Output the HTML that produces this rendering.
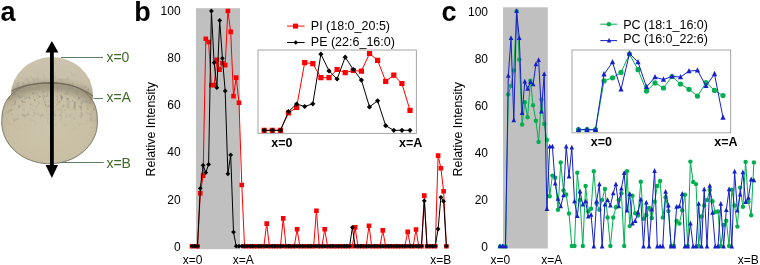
<!DOCTYPE html>
<html><head><meta charset="utf-8"><style>
html,body{margin:0;padding:0;background:#fff;width:760px;height:265px;overflow:hidden}
svg{display:block;will-change:transform}
text{font-family:"Liberation Sans",sans-serif}
.tk{font-size:12px;fill:#000}
.tkb{font-size:12.5px;font-weight:bold;fill:#000}
.lg{font-size:12.5px;fill:#000}
.xl{font-size:12px;fill:#000}
.ri{font-size:12.4px;fill:#000}
.lab{font-size:14px;fill:#3f6a26}
.pl{font-size:27px;font-weight:bold;fill:#000}
</style></head><body>
<svg width="760" height="265" viewBox="0 0 760 265">
<rect width="760" height="265" fill="#fff"/>

<defs>
 <linearGradient id="gUp" x1="0" y1="0" x2="0" y2="1">
  <stop offset="0" stop-color="#cbc3ad"/><stop offset="0.3" stop-color="#c9c0a9"/><stop offset="0.7" stop-color="#bdb49c"/><stop offset="1" stop-color="#b3aa91"/>
 </linearGradient>
 <radialGradient id="gLow" cx="0.5" cy="0.55" r="0.6">
  <stop offset="0" stop-color="#cdc5ab"/><stop offset="0.7" stop-color="#c8bfa4"/><stop offset="1" stop-color="#b9af94"/>
 </radialGradient>
 <clipPath id="cAll"><path d="M97.40 122.50 L97.36 124.12 L97.25 125.73 L97.07 127.34 L96.81 128.95 L96.48 130.54 L96.08 132.12 L95.61 133.68 L95.06 135.23 L94.45 136.76 L93.76 138.27 L93.01 139.75 L92.19 141.20 L91.31 142.63 L90.36 144.03 L89.34 145.39 L88.27 146.72 L87.14 148.01 L85.95 149.26 L84.70 150.47 L83.40 151.63 L82.05 152.75 L80.64 153.83 L79.19 154.86 L77.70 155.83 L76.16 156.76 L74.58 157.63 L72.96 158.45 L71.30 159.21 L69.61 159.92 L67.89 160.56 L66.14 161.15 L64.37 161.68 L62.57 162.15 L60.76 162.56 L58.93 162.91 L57.08 163.19 L55.22 163.41 L53.35 163.57 L51.48 163.67 L49.60 163.70 L47.72 163.67 L45.85 163.57 L43.98 163.41 L42.12 163.19 L40.27 162.91 L38.44 162.56 L36.63 162.15 L34.83 161.68 L33.06 161.15 L31.31 160.56 L29.59 159.92 L27.90 159.21 L26.24 158.45 L24.62 157.63 L23.04 156.76 L21.50 155.83 L20.01 154.86 L18.56 153.83 L17.15 152.75 L15.80 151.63 L14.50 150.47 L13.25 149.26 L12.06 148.01 L10.93 146.72 L9.86 145.39 L8.84 144.03 L7.89 142.63 L7.01 141.20 L6.19 139.75 L5.44 138.27 L4.75 136.76 L4.14 135.23 L3.59 133.68 L3.12 132.12 L2.72 130.54 L2.39 128.95 L2.13 127.34 L1.95 125.73 L1.84 124.12 L1.80 122.50 L1.83 119.55 L1.92 117.37 L2.07 115.41 L2.27 113.59 L2.54 111.87 L2.86 110.23 L3.24 108.65 L3.68 107.14 L4.18 105.68 L4.73 104.28 L5.35 102.92 L6.02 101.61 L6.74 100.34 L7.52 99.12 L8.36 97.94 L9.25 96.81 L10.20 95.72 L11.21 94.68 L12.26 93.67 L13.37 92.72 L14.54 91.80 L15.76 90.93 L17.03 90.11 L18.35 89.33 L19.73 88.59 L21.16 87.91 L22.65 87.26 L24.19 86.67 L25.78 86.12 L27.43 85.61 L29.14 85.16 L30.92 84.75 L32.76 84.38 L34.67 84.07 L36.67 83.81 L38.76 83.59 L40.98 83.42 L43.36 83.30 L46.01 83.22 L49.60 83.20 L53.19 83.22 L55.84 83.30 L58.22 83.42 L60.44 83.59 L62.53 83.81 L64.53 84.07 L66.44 84.38 L68.28 84.75 L70.06 85.16 L71.77 85.61 L73.42 86.12 L75.01 86.67 L76.55 87.26 L78.04 87.91 L79.47 88.59 L80.85 89.33 L82.17 90.11 L83.44 90.93 L84.66 91.80 L85.83 92.72 L86.94 93.67 L87.99 94.68 L89.00 95.72 L89.95 96.81 L90.84 97.94 L91.68 99.12 L92.46 100.34 L93.18 101.61 L93.85 102.92 L94.47 104.28 L95.02 105.68 L95.52 107.14 L95.96 108.65 L96.34 110.23 L96.66 111.87 L96.93 113.59 L97.13 115.41 L97.28 117.37 L97.37 119.55 Z"/><ellipse cx="52" cy="95" rx="41" ry="38"/></clipPath>
 <filter id="fb2" x="-20%" y="-50%" width="140%" height="200%"><feGaussianBlur stdDeviation="0.7"/></filter>
 <filter id="fb3" x="-20%" y="-50%" width="140%" height="200%"><feGaussianBlur stdDeviation="3"/></filter>
 <filter id="mottle" x="0" y="0" width="100%" height="100%"><feTurbulence type="fractalNoise" baseFrequency="0.3 0.22" numOctaves="3" seed="11"/><feColorMatrix type="matrix" values="0 0 0 0 0.3  0 0 0 0 0.28  0 0 0 0 0.24  4.5 0 0 0 -2.45"/><feGaussianBlur stdDeviation="0.35"/></filter>
 <linearGradient id="mfade" x1="0" y1="0" x2="0" y2="1">
  <stop offset="0" stop-color="#fff" stop-opacity="0"/><stop offset="0.3" stop-color="#fff" stop-opacity="0.6"/>
  <stop offset="0.45" stop-color="#fff" stop-opacity="1"/><stop offset="0.7" stop-color="#fff" stop-opacity="0.55"/><stop offset="1" stop-color="#fff" stop-opacity="0"/></linearGradient>
 <mask id="mMot"><rect x="0" y="70" width="100" height="60" fill="url(#mfade)"/></mask>
</defs>
<ellipse cx="52" cy="95" rx="41" ry="38" fill="url(#gUp)"/>
<path d="M97.40 122.50 L97.36 124.12 L97.25 125.73 L97.07 127.34 L96.81 128.95 L96.48 130.54 L96.08 132.12 L95.61 133.68 L95.06 135.23 L94.45 136.76 L93.76 138.27 L93.01 139.75 L92.19 141.20 L91.31 142.63 L90.36 144.03 L89.34 145.39 L88.27 146.72 L87.14 148.01 L85.95 149.26 L84.70 150.47 L83.40 151.63 L82.05 152.75 L80.64 153.83 L79.19 154.86 L77.70 155.83 L76.16 156.76 L74.58 157.63 L72.96 158.45 L71.30 159.21 L69.61 159.92 L67.89 160.56 L66.14 161.15 L64.37 161.68 L62.57 162.15 L60.76 162.56 L58.93 162.91 L57.08 163.19 L55.22 163.41 L53.35 163.57 L51.48 163.67 L49.60 163.70 L47.72 163.67 L45.85 163.57 L43.98 163.41 L42.12 163.19 L40.27 162.91 L38.44 162.56 L36.63 162.15 L34.83 161.68 L33.06 161.15 L31.31 160.56 L29.59 159.92 L27.90 159.21 L26.24 158.45 L24.62 157.63 L23.04 156.76 L21.50 155.83 L20.01 154.86 L18.56 153.83 L17.15 152.75 L15.80 151.63 L14.50 150.47 L13.25 149.26 L12.06 148.01 L10.93 146.72 L9.86 145.39 L8.84 144.03 L7.89 142.63 L7.01 141.20 L6.19 139.75 L5.44 138.27 L4.75 136.76 L4.14 135.23 L3.59 133.68 L3.12 132.12 L2.72 130.54 L2.39 128.95 L2.13 127.34 L1.95 125.73 L1.84 124.12 L1.80 122.50 L1.83 119.55 L1.92 117.37 L2.07 115.41 L2.27 113.59 L2.54 111.87 L2.86 110.23 L3.24 108.65 L3.68 107.14 L4.18 105.68 L4.73 104.28 L5.35 102.92 L6.02 101.61 L6.74 100.34 L7.52 99.12 L8.36 97.94 L9.25 96.81 L10.20 95.72 L11.21 94.68 L12.26 93.67 L13.37 92.72 L14.54 91.80 L15.76 90.93 L17.03 90.11 L18.35 89.33 L19.73 88.59 L21.16 87.91 L22.65 87.26 L24.19 86.67 L25.78 86.12 L27.43 85.61 L29.14 85.16 L30.92 84.75 L32.76 84.38 L34.67 84.07 L36.67 83.81 L38.76 83.59 L40.98 83.42 L43.36 83.30 L46.01 83.22 L49.60 83.20 L53.19 83.22 L55.84 83.30 L58.22 83.42 L60.44 83.59 L62.53 83.81 L64.53 84.07 L66.44 84.38 L68.28 84.75 L70.06 85.16 L71.77 85.61 L73.42 86.12 L75.01 86.67 L76.55 87.26 L78.04 87.91 L79.47 88.59 L80.85 89.33 L82.17 90.11 L83.44 90.93 L84.66 91.80 L85.83 92.72 L86.94 93.67 L87.99 94.68 L89.00 95.72 L89.95 96.81 L90.84 97.94 L91.68 99.12 L92.46 100.34 L93.18 101.61 L93.85 102.92 L94.47 104.28 L95.02 105.68 L95.52 107.14 L95.96 108.65 L96.34 110.23 L96.66 111.87 L96.93 113.59 L97.13 115.41 L97.28 117.37 L97.37 119.55 Z" fill="url(#gLow)"/>
<g clip-path="url(#cAll)">
 <path d="M6 97 Q25 86 50 86 Q78 86 96 101" fill="none" stroke="#5f584a" stroke-width="8" opacity="0.38" filter="url(#fb3)"/>
 <rect x="0" y="70" width="100" height="60" filter="url(#mottle)" mask="url(#mMot)" opacity="0.9"/>
 <path d="M8 93 Q22 83.5 50 82.6 Q78 83.2 95 98" fill="none" stroke="#4d473b" stroke-width="1.2" opacity="0.5" filter="url(#fb2)"/>
</g>
<path d="M97.40 122.50 L97.36 124.12 L97.25 125.73 L97.07 127.34 L96.81 128.95 L96.48 130.54 L96.08 132.12 L95.61 133.68 L95.06 135.23 L94.45 136.76 L93.76 138.27 L93.01 139.75 L92.19 141.20 L91.31 142.63 L90.36 144.03 L89.34 145.39 L88.27 146.72 L87.14 148.01 L85.95 149.26 L84.70 150.47 L83.40 151.63 L82.05 152.75 L80.64 153.83 L79.19 154.86 L77.70 155.83 L76.16 156.76 L74.58 157.63 L72.96 158.45 L71.30 159.21 L69.61 159.92 L67.89 160.56 L66.14 161.15 L64.37 161.68 L62.57 162.15 L60.76 162.56 L58.93 162.91 L57.08 163.19 L55.22 163.41 L53.35 163.57 L51.48 163.67 L49.60 163.70 L47.72 163.67 L45.85 163.57 L43.98 163.41 L42.12 163.19 L40.27 162.91 L38.44 162.56 L36.63 162.15 L34.83 161.68 L33.06 161.15 L31.31 160.56 L29.59 159.92 L27.90 159.21 L26.24 158.45 L24.62 157.63 L23.04 156.76 L21.50 155.83 L20.01 154.86 L18.56 153.83 L17.15 152.75 L15.80 151.63 L14.50 150.47 L13.25 149.26 L12.06 148.01 L10.93 146.72 L9.86 145.39 L8.84 144.03 L7.89 142.63 L7.01 141.20 L6.19 139.75 L5.44 138.27 L4.75 136.76 L4.14 135.23 L3.59 133.68 L3.12 132.12 L2.72 130.54 L2.39 128.95 L2.13 127.34 L1.95 125.73 L1.84 124.12 L1.80 122.50 L1.83 119.55 L1.92 117.37 L2.07 115.41 L2.27 113.59 L2.54 111.87 L2.86 110.23 L3.24 108.65 L3.68 107.14 L4.18 105.68 L4.73 104.28 L5.35 102.92 L6.02 101.61 L6.74 100.34 L7.52 99.12 L8.36 97.94 L9.25 96.81 L10.20 95.72 L11.21 94.68 L12.26 93.67 L13.37 92.72 L14.54 91.80 L15.76 90.93 L17.03 90.11 L18.35 89.33 L19.73 88.59 L21.16 87.91 L22.65 87.26 L24.19 86.67 L25.78 86.12 L27.43 85.61 L29.14 85.16 L30.92 84.75 L32.76 84.38 L34.67 84.07 L36.67 83.81 L38.76 83.59 L40.98 83.42 L43.36 83.30 L46.01 83.22 L49.60 83.20 L53.19 83.22 L55.84 83.30 L58.22 83.42 L60.44 83.59 L62.53 83.81 L64.53 84.07 L66.44 84.38 L68.28 84.75 L70.06 85.16 L71.77 85.61 L73.42 86.12 L75.01 86.67 L76.55 87.26 L78.04 87.91 L79.47 88.59 L80.85 89.33 L82.17 90.11 L83.44 90.93 L84.66 91.80 L85.83 92.72 L86.94 93.67 L87.99 94.68 L89.00 95.72 L89.95 96.81 L90.84 97.94 L91.68 99.12 L92.46 100.34 L93.18 101.61 L93.85 102.92 L94.47 104.28 L95.02 105.68 L95.52 107.14 L95.96 108.65 L96.34 110.23 L96.66 111.87 L96.93 113.59 L97.13 115.41 L97.28 117.37 L97.37 119.55 Z" fill="none" stroke="#6e6656" stroke-width="0.9" opacity="0.95"/>
<line x1="61" y1="57.5" x2="103" y2="57.5" stroke="#5c7c66" stroke-width="1"/>
<line x1="93.5" y1="98.5" x2="103" y2="98.5" stroke="#5c7c66" stroke-width="1"/>
<line x1="60" y1="162.5" x2="103.6" y2="162.5" stroke="#5c7c66" stroke-width="1"/>
<rect x="50" y="50" width="3.8" height="117" fill="#000"/>
<path d="M51.9 41 L58.4 52.5 L45.4 52.5 Z" fill="#000"/>
<path d="M51.9 178 L58 165 L45.6 165 Z" fill="#000"/>
<text x="106.4" y="61.8" class="lab">x=0</text>
<text x="106.4" y="101.8" class="lab">x=A</text>
<text x="106.4" y="167.6" class="lab">x=B</text>
<text x="0.5" y="21.2" class="pl">a</text>

<rect x="196" y="8.2" width="44" height="241" fill="#c0c0c0"/>
<text x="180.6" y="15.3" class="tk" text-anchor="end">100</text>
<text x="180.6" y="62.3" class="tk" text-anchor="end">80</text>
<text x="180.6" y="109.4" class="tk" text-anchor="end">60</text>
<text x="180.6" y="156.4" class="tk" text-anchor="end">40</text>
<text x="180.6" y="203.5" class="tk" text-anchor="end">20</text>
<text x="180.6" y="250.5" class="tk" text-anchor="end">0</text>
<text transform="translate(154.5,176.4) rotate(-90)" class="ri">Relative Intensity</text>
<text x="134.2" y="21" class="pl">b</text>
<polyline fill="none" stroke="#ff0000" stroke-width="1.0" stroke-linejoin="round" points="192,246.2 194.8,246.2 197.5,246.2 200.3,193.3 203.1,175.6 205.8,38.8 208.6,42 211.4,85.1 214.1,85.1 216.9,59.9 219.7,69.6 222.4,63 225.2,65.1 227.9,11 230.7,31.9 233.5,96.1 236.2,77.6 239,102.7 241.8,185 244.5,246.2 247.3,246.2 250.1,246.2 252.8,246.2 255.6,246.2 258.4,246.2 261.1,246.2 263.9,246.2 266.7,223.6 269.4,246.2 272.2,246.2 274.9,246.2 277.7,246.2 280.5,246.2 283.2,218.4 286,246.2 288.8,246.2 291.5,246.2 294.3,246.2 297.1,229.3 299.8,246.2 302.6,246.2 305.4,246.2 308.1,246.2 310.9,246.2 313.7,246.2 316.4,210.7 319.2,246.2 322,246.2 324.7,229.3 327.5,246.2 330.2,246.2 333,246.2 335.8,246.2 338.5,246.2 341.3,246.2 344.1,246.2 346.8,246.2 349.6,246.2 352.4,246.2 355.1,227.4 357.9,246.2 360.7,246.2 363.4,246.2 366.2,246.2 369,225.7 371.7,246.2 374.5,246.2 377.3,246.2 380,246.2 382.8,230.4 385.6,246.2 388.3,246.2 391.1,246.2 393.8,246.2 396.6,246.2 399.4,246.2 402.1,246.2 404.9,246.2 407.7,231.9 410.4,246.2 413.2,246.2 416,229.5 418.7,246.2 421.5,246.2 424.3,195.6 427,246.2 429.8,246.2 432.6,246.2 435.3,246.2 438.1,155.6 440.9,168.3 443.6,191.2 446.4,246.2"/>
<path fill="#ff0000" d="M189.7 243.9h4.6v4.6h-4.6zM192.5 243.9h4.6v4.6h-4.6zM195.2 243.9h4.6v4.6h-4.6zM198 191h4.6v4.6h-4.6zM200.8 173.3h4.6v4.6h-4.6zM203.5 36.5h4.6v4.6h-4.6zM206.3 39.7h4.6v4.6h-4.6zM209.1 82.8h4.6v4.6h-4.6zM211.8 82.8h4.6v4.6h-4.6zM214.6 57.6h4.6v4.6h-4.6zM217.3 67.3h4.6v4.6h-4.6zM220.1 60.7h4.6v4.6h-4.6zM222.9 62.8h4.6v4.6h-4.6zM225.6 8.7h4.6v4.6h-4.6zM228.4 29.6h4.6v4.6h-4.6zM231.2 93.8h4.6v4.6h-4.6zM233.9 75.3h4.6v4.6h-4.6zM236.7 100.4h4.6v4.6h-4.6zM239.5 182.7h4.6v4.6h-4.6zM242.2 243.9h4.6v4.6h-4.6zM245 243.9h4.6v4.6h-4.6zM247.8 243.9h4.6v4.6h-4.6zM250.5 243.9h4.6v4.6h-4.6zM253.3 243.9h4.6v4.6h-4.6zM256.1 243.9h4.6v4.6h-4.6zM258.8 243.9h4.6v4.6h-4.6zM261.6 243.9h4.6v4.6h-4.6zM264.4 221.3h4.6v4.6h-4.6zM267.1 243.9h4.6v4.6h-4.6zM269.9 243.9h4.6v4.6h-4.6zM272.6 243.9h4.6v4.6h-4.6zM275.4 243.9h4.6v4.6h-4.6zM278.2 243.9h4.6v4.6h-4.6zM280.9 216.1h4.6v4.6h-4.6zM283.7 243.9h4.6v4.6h-4.6zM286.5 243.9h4.6v4.6h-4.6zM289.2 243.9h4.6v4.6h-4.6zM292 243.9h4.6v4.6h-4.6zM294.8 227h4.6v4.6h-4.6zM297.5 243.9h4.6v4.6h-4.6zM300.3 243.9h4.6v4.6h-4.6zM303.1 243.9h4.6v4.6h-4.6zM305.8 243.9h4.6v4.6h-4.6zM308.6 243.9h4.6v4.6h-4.6zM311.4 243.9h4.6v4.6h-4.6zM314.1 208.4h4.6v4.6h-4.6zM316.9 243.9h4.6v4.6h-4.6zM319.7 243.9h4.6v4.6h-4.6zM322.4 227h4.6v4.6h-4.6zM325.2 243.9h4.6v4.6h-4.6zM327.9 243.9h4.6v4.6h-4.6zM330.7 243.9h4.6v4.6h-4.6zM333.5 243.9h4.6v4.6h-4.6zM336.2 243.9h4.6v4.6h-4.6zM339 243.9h4.6v4.6h-4.6zM341.8 243.9h4.6v4.6h-4.6zM344.5 243.9h4.6v4.6h-4.6zM347.3 243.9h4.6v4.6h-4.6zM350.1 243.9h4.6v4.6h-4.6zM352.8 225.1h4.6v4.6h-4.6zM355.6 243.9h4.6v4.6h-4.6zM358.4 243.9h4.6v4.6h-4.6zM361.1 243.9h4.6v4.6h-4.6zM363.9 243.9h4.6v4.6h-4.6zM366.7 223.4h4.6v4.6h-4.6zM369.4 243.9h4.6v4.6h-4.6zM372.2 243.9h4.6v4.6h-4.6zM375 243.9h4.6v4.6h-4.6zM377.7 243.9h4.6v4.6h-4.6zM380.5 228.1h4.6v4.6h-4.6zM383.2 243.9h4.6v4.6h-4.6zM386 243.9h4.6v4.6h-4.6zM388.8 243.9h4.6v4.6h-4.6zM391.5 243.9h4.6v4.6h-4.6zM394.3 243.9h4.6v4.6h-4.6zM397.1 243.9h4.6v4.6h-4.6zM399.8 243.9h4.6v4.6h-4.6zM402.6 243.9h4.6v4.6h-4.6zM405.4 229.6h4.6v4.6h-4.6zM408.1 243.9h4.6v4.6h-4.6zM410.9 243.9h4.6v4.6h-4.6zM413.7 227.2h4.6v4.6h-4.6zM416.4 243.9h4.6v4.6h-4.6zM419.2 243.9h4.6v4.6h-4.6zM422 193.3h4.6v4.6h-4.6zM424.7 243.9h4.6v4.6h-4.6zM427.5 243.9h4.6v4.6h-4.6zM430.3 243.9h4.6v4.6h-4.6zM433 243.9h4.6v4.6h-4.6zM435.8 153.3h4.6v4.6h-4.6zM438.6 166h4.6v4.6h-4.6zM441.3 188.9h4.6v4.6h-4.6zM444.1 243.9h4.6v4.6h-4.6z"/>
<polyline fill="none" stroke="#000000" stroke-width="1.0" stroke-linejoin="round" points="192,246.2 194.8,246.2 197.5,246.2 200.3,188.3 203.1,165.3 205.8,172.6 208.6,164.4 211.4,11 214.1,62.7 216.9,87.7 219.7,20.4 222.4,58.3 225.2,91 227.9,173.8 230.7,154.9 233.5,232.1 236.2,246.2 239,246.2 241.8,246.2 244.5,246.2 247.3,246.2 250.1,246.2 252.8,246.2 255.6,246.2 258.4,246.2 261.1,246.2 263.9,246.2 266.7,246.2 269.4,246.2 272.2,246.2 274.9,246.2 277.7,246.2 280.5,246.2 283.2,246.2 286,246.2 288.8,246.2 291.5,246.2 294.3,246.2 297.1,246.2 299.8,246.2 302.6,246.2 305.4,246.2 308.1,246.2 310.9,246.2 313.7,246.2 316.4,246.2 319.2,246.2 322,246.2 324.7,246.2 327.5,246.2 330.2,246.2 333,246.2 335.8,246.2 338.5,246.2 341.3,246.2 344.1,246.2 346.8,246.2 349.6,246.2 352.4,227.4 355.1,246.2 357.9,246.2 360.7,246.2 363.4,246.2 366.2,246.2 369,246.2 371.7,246.2 374.5,246.2 377.3,246.2 380,246.2 382.8,246.2 385.6,246.2 388.3,246.2 391.1,246.2 393.8,246.2 396.6,246.2 399.4,246.2 402.1,246.2 404.9,246.2 407.7,246.2 410.4,246.2 413.2,246.2 416,246.2 418.7,246.2 421.5,246.2 424.3,200.8 427,246.2 429.8,246.2 432.6,246.2 435.3,246.2 438.1,229 440.9,197.3 443.6,201.3 446.4,246.2"/>
<path fill="#000000" d="M192 243.8l2.4 2.4l-2.4 2.4l-2.4 -2.4zM194.8 243.8l2.4 2.4l-2.4 2.4l-2.4 -2.4zM197.5 243.8l2.4 2.4l-2.4 2.4l-2.4 -2.4zM200.3 185.9l2.4 2.4l-2.4 2.4l-2.4 -2.4zM203.1 162.9l2.4 2.4l-2.4 2.4l-2.4 -2.4zM205.8 170.2l2.4 2.4l-2.4 2.4l-2.4 -2.4zM208.6 162l2.4 2.4l-2.4 2.4l-2.4 -2.4zM211.4 8.6l2.4 2.4l-2.4 2.4l-2.4 -2.4zM214.1 60.3l2.4 2.4l-2.4 2.4l-2.4 -2.4zM216.9 85.3l2.4 2.4l-2.4 2.4l-2.4 -2.4zM219.7 18l2.4 2.4l-2.4 2.4l-2.4 -2.4zM222.4 55.9l2.4 2.4l-2.4 2.4l-2.4 -2.4zM225.2 88.6l2.4 2.4l-2.4 2.4l-2.4 -2.4zM227.9 171.4l2.4 2.4l-2.4 2.4l-2.4 -2.4zM230.7 152.5l2.4 2.4l-2.4 2.4l-2.4 -2.4zM233.5 229.7l2.4 2.4l-2.4 2.4l-2.4 -2.4zM236.2 243.8l2.4 2.4l-2.4 2.4l-2.4 -2.4zM239 243.8l2.4 2.4l-2.4 2.4l-2.4 -2.4zM241.8 243.8l2.4 2.4l-2.4 2.4l-2.4 -2.4zM244.5 243.8l2.4 2.4l-2.4 2.4l-2.4 -2.4zM247.3 243.8l2.4 2.4l-2.4 2.4l-2.4 -2.4zM250.1 243.8l2.4 2.4l-2.4 2.4l-2.4 -2.4zM252.8 243.8l2.4 2.4l-2.4 2.4l-2.4 -2.4zM255.6 243.8l2.4 2.4l-2.4 2.4l-2.4 -2.4zM258.4 243.8l2.4 2.4l-2.4 2.4l-2.4 -2.4zM261.1 243.8l2.4 2.4l-2.4 2.4l-2.4 -2.4zM263.9 243.8l2.4 2.4l-2.4 2.4l-2.4 -2.4zM266.7 243.8l2.4 2.4l-2.4 2.4l-2.4 -2.4zM269.4 243.8l2.4 2.4l-2.4 2.4l-2.4 -2.4zM272.2 243.8l2.4 2.4l-2.4 2.4l-2.4 -2.4zM274.9 243.8l2.4 2.4l-2.4 2.4l-2.4 -2.4zM277.7 243.8l2.4 2.4l-2.4 2.4l-2.4 -2.4zM280.5 243.8l2.4 2.4l-2.4 2.4l-2.4 -2.4zM283.2 243.8l2.4 2.4l-2.4 2.4l-2.4 -2.4zM286 243.8l2.4 2.4l-2.4 2.4l-2.4 -2.4zM288.8 243.8l2.4 2.4l-2.4 2.4l-2.4 -2.4zM291.5 243.8l2.4 2.4l-2.4 2.4l-2.4 -2.4zM294.3 243.8l2.4 2.4l-2.4 2.4l-2.4 -2.4zM297.1 243.8l2.4 2.4l-2.4 2.4l-2.4 -2.4zM299.8 243.8l2.4 2.4l-2.4 2.4l-2.4 -2.4zM302.6 243.8l2.4 2.4l-2.4 2.4l-2.4 -2.4zM305.4 243.8l2.4 2.4l-2.4 2.4l-2.4 -2.4zM308.1 243.8l2.4 2.4l-2.4 2.4l-2.4 -2.4zM310.9 243.8l2.4 2.4l-2.4 2.4l-2.4 -2.4zM313.7 243.8l2.4 2.4l-2.4 2.4l-2.4 -2.4zM316.4 243.8l2.4 2.4l-2.4 2.4l-2.4 -2.4zM319.2 243.8l2.4 2.4l-2.4 2.4l-2.4 -2.4zM322 243.8l2.4 2.4l-2.4 2.4l-2.4 -2.4zM324.7 243.8l2.4 2.4l-2.4 2.4l-2.4 -2.4zM327.5 243.8l2.4 2.4l-2.4 2.4l-2.4 -2.4zM330.2 243.8l2.4 2.4l-2.4 2.4l-2.4 -2.4zM333 243.8l2.4 2.4l-2.4 2.4l-2.4 -2.4zM335.8 243.8l2.4 2.4l-2.4 2.4l-2.4 -2.4zM338.5 243.8l2.4 2.4l-2.4 2.4l-2.4 -2.4zM341.3 243.8l2.4 2.4l-2.4 2.4l-2.4 -2.4zM344.1 243.8l2.4 2.4l-2.4 2.4l-2.4 -2.4zM346.8 243.8l2.4 2.4l-2.4 2.4l-2.4 -2.4zM349.6 243.8l2.4 2.4l-2.4 2.4l-2.4 -2.4zM352.4 225l2.4 2.4l-2.4 2.4l-2.4 -2.4zM355.1 243.8l2.4 2.4l-2.4 2.4l-2.4 -2.4zM357.9 243.8l2.4 2.4l-2.4 2.4l-2.4 -2.4zM360.7 243.8l2.4 2.4l-2.4 2.4l-2.4 -2.4zM363.4 243.8l2.4 2.4l-2.4 2.4l-2.4 -2.4zM366.2 243.8l2.4 2.4l-2.4 2.4l-2.4 -2.4zM369 243.8l2.4 2.4l-2.4 2.4l-2.4 -2.4zM371.7 243.8l2.4 2.4l-2.4 2.4l-2.4 -2.4zM374.5 243.8l2.4 2.4l-2.4 2.4l-2.4 -2.4zM377.3 243.8l2.4 2.4l-2.4 2.4l-2.4 -2.4zM380 243.8l2.4 2.4l-2.4 2.4l-2.4 -2.4zM382.8 243.8l2.4 2.4l-2.4 2.4l-2.4 -2.4zM385.6 243.8l2.4 2.4l-2.4 2.4l-2.4 -2.4zM388.3 243.8l2.4 2.4l-2.4 2.4l-2.4 -2.4zM391.1 243.8l2.4 2.4l-2.4 2.4l-2.4 -2.4zM393.8 243.8l2.4 2.4l-2.4 2.4l-2.4 -2.4zM396.6 243.8l2.4 2.4l-2.4 2.4l-2.4 -2.4zM399.4 243.8l2.4 2.4l-2.4 2.4l-2.4 -2.4zM402.1 243.8l2.4 2.4l-2.4 2.4l-2.4 -2.4zM404.9 243.8l2.4 2.4l-2.4 2.4l-2.4 -2.4zM407.7 243.8l2.4 2.4l-2.4 2.4l-2.4 -2.4zM410.4 243.8l2.4 2.4l-2.4 2.4l-2.4 -2.4zM413.2 243.8l2.4 2.4l-2.4 2.4l-2.4 -2.4zM416 243.8l2.4 2.4l-2.4 2.4l-2.4 -2.4zM418.7 243.8l2.4 2.4l-2.4 2.4l-2.4 -2.4zM421.5 243.8l2.4 2.4l-2.4 2.4l-2.4 -2.4zM424.3 198.4l2.4 2.4l-2.4 2.4l-2.4 -2.4zM427 243.8l2.4 2.4l-2.4 2.4l-2.4 -2.4zM429.8 243.8l2.4 2.4l-2.4 2.4l-2.4 -2.4zM432.6 243.8l2.4 2.4l-2.4 2.4l-2.4 -2.4zM435.3 243.8l2.4 2.4l-2.4 2.4l-2.4 -2.4zM438.1 226.6l2.4 2.4l-2.4 2.4l-2.4 -2.4zM440.9 194.9l2.4 2.4l-2.4 2.4l-2.4 -2.4zM443.6 198.9l2.4 2.4l-2.4 2.4l-2.4 -2.4zM446.4 243.8l2.4 2.4l-2.4 2.4l-2.4 -2.4z"/>
<rect x="258" y="50" width="158.4" height="83.4" fill="#fff" stroke="#a6a6a6" stroke-width="1"/>
<polyline fill="none" stroke="#ff0000" stroke-width="1.0" stroke-linejoin="round" points="264.2,130.3 272.3,130.3 280.4,130.3 288.5,113 296.6,107.3 304.7,62.6 312.8,63.6 320.9,77.7 329,77.7 337.1,69.5 345.2,72.6 353.3,70.5 361.4,71.2 369.5,53.5 377.6,60.3 385.7,81.3 393.8,75.2 401.9,83.5 410,110.3"/>
<path fill="#ff0000" d="M261.6 127.7h5.2v5.2h-5.2zM269.7 127.7h5.2v5.2h-5.2zM277.8 127.7h5.2v5.2h-5.2zM285.9 110.4h5.2v5.2h-5.2zM294 104.7h5.2v5.2h-5.2zM302.1 60h5.2v5.2h-5.2zM310.2 61h5.2v5.2h-5.2zM318.3 75.1h5.2v5.2h-5.2zM326.4 75.1h5.2v5.2h-5.2zM334.5 66.9h5.2v5.2h-5.2zM342.6 70h5.2v5.2h-5.2zM350.7 67.9h5.2v5.2h-5.2zM358.8 68.6h5.2v5.2h-5.2zM366.9 50.9h5.2v5.2h-5.2zM375 57.7h5.2v5.2h-5.2zM383.1 78.7h5.2v5.2h-5.2zM391.2 72.6h5.2v5.2h-5.2zM399.3 80.9h5.2v5.2h-5.2zM407.4 107.7h5.2v5.2h-5.2z"/>
<polyline fill="none" stroke="#000000" stroke-width="1.0" stroke-linejoin="round" points="264.2,130.3 272.3,130.3 280.4,130.3 288.5,111.6 296.6,104.1 304.7,106.5 312.8,103.8 320.9,54.2 329,70.9 337.1,79 345.2,57.2 353.3,69.5 361.4,80.1 369.5,106.9 377.6,100.8 385.7,125.7 393.8,130.3 401.9,130.3 410,130.3"/>
<path fill="#000000" d="M264.2 127.7l2.6 2.6l-2.6 2.6l-2.6 -2.6zM272.3 127.7l2.6 2.6l-2.6 2.6l-2.6 -2.6zM280.4 127.7l2.6 2.6l-2.6 2.6l-2.6 -2.6zM288.5 109l2.6 2.6l-2.6 2.6l-2.6 -2.6zM296.6 101.5l2.6 2.6l-2.6 2.6l-2.6 -2.6zM304.7 103.9l2.6 2.6l-2.6 2.6l-2.6 -2.6zM312.8 101.2l2.6 2.6l-2.6 2.6l-2.6 -2.6zM320.9 51.6l2.6 2.6l-2.6 2.6l-2.6 -2.6zM329 68.3l2.6 2.6l-2.6 2.6l-2.6 -2.6zM337.1 76.4l2.6 2.6l-2.6 2.6l-2.6 -2.6zM345.2 54.6l2.6 2.6l-2.6 2.6l-2.6 -2.6zM353.3 66.9l2.6 2.6l-2.6 2.6l-2.6 -2.6zM361.4 77.5l2.6 2.6l-2.6 2.6l-2.6 -2.6zM369.5 104.3l2.6 2.6l-2.6 2.6l-2.6 -2.6zM377.6 98.2l2.6 2.6l-2.6 2.6l-2.6 -2.6zM385.7 123.1l2.6 2.6l-2.6 2.6l-2.6 -2.6zM393.8 127.7l2.6 2.6l-2.6 2.6l-2.6 -2.6zM401.9 127.7l2.6 2.6l-2.6 2.6l-2.6 -2.6zM410 127.7l2.6 2.6l-2.6 2.6l-2.6 -2.6z"/>
<text x="271.3" y="146.9" class="tkb">x=0</text>
<text x="399" y="146.9" class="tkb">x=A</text>
<text x="182.8" y="263.6" class="xl">x=0</text>
<text x="232.8" y="263.6" class="xl">x=A</text>
<text x="430.2" y="263.6" class="xl">x=B</text>
<line x1="287" y1="26.1" x2="304.6" y2="26.1" stroke="#ff0000"/>
<path fill="#ff0000" d="M293 23.6h5v5h-5z"/>
<line x1="287" y1="42.5" x2="304.6" y2="42.5" stroke="#000"/>
<path fill="#000000" d="M295.8 40.2l2.3 2.3l-2.3 2.3l-2.3 -2.3z"/>
<text x="310.8" y="30.4" class="lg">PI (18:0_20:5)</text>
<text x="310.8" y="46.3" class="lg">PE (22:6_16:0)</text>
<rect x="503" y="7.3" width="44.8" height="241.2" fill="#c0c0c0"/>
<text x="488" y="15.6" class="tk" text-anchor="end">100</text>
<text x="488" y="62.6" class="tk" text-anchor="end">80</text>
<text x="488" y="109.7" class="tk" text-anchor="end">60</text>
<text x="488" y="156.7" class="tk" text-anchor="end">40</text>
<text x="488" y="203.8" class="tk" text-anchor="end">20</text>
<text x="488" y="250.8" class="tk" text-anchor="end">0</text>
<text transform="translate(462.4,176.4) rotate(-90)" class="ri">Relative Intensity</text>
<text x="441.5" y="21.2" class="pl">c</text>
<polyline fill="none" stroke="#00b050" stroke-width="1.0" stroke-linejoin="round" points="500,246.4 502.8,246.4 505.5,246.4 508.3,94.4 511,85.9 513.8,70.4 516.6,11.1 519.3,59.6 522.1,124.5 524.8,102.2 527.6,117.2 530.4,80.7 533.1,105.2 535.9,120.7 538.6,141.9 541.4,99.6 544.2,124 546.9,140 549.7,196.2 552.4,175.6 555.2,177.7 558,209.8 560.7,162.5 563.5,190.5 566.2,194.5 569,213.5 571.8,246 574.5,246 577.3,172.8 580,200 582.8,246 585.6,186 588.3,211.4 591.1,208.8 593.8,171.3 596.6,203.7 599.4,209.8 602.1,200 604.9,189 607.6,217.4 610.4,246 613.2,217.5 615.9,207.3 618.7,200 621.4,193.3 624.2,246 627,171.2 629.7,226.1 632.5,195.7 635.2,213.3 638,215.5 640.8,181.8 643.5,218.8 646.3,215 649,208 651.8,218 654.6,201.8 657.3,186 660.1,181 662.8,217.5 665.6,197.3 668.4,211.1 671.1,246 673.9,246 676.6,221 679.4,223.6 682.2,210.2 684.9,194.8 687.7,246 690.4,161.6 693.2,182 696,184.1 698.7,246 701.5,216.5 704.2,205.5 707,200 709.8,189.9 712.5,201.2 715.3,212 718,211.4 720.8,246 723.6,225 726.3,220.7 729.1,246 731.8,189.6 734.6,205.5 737.4,226.6 740.1,187.6 742.9,206.8 745.6,161.9 748.4,201.7 751.2,215.3 753.9,162.4"/>
<circle cx="500" cy="246.4" r="2.2" fill="#00b050"/><circle cx="502.8" cy="246.4" r="2.2" fill="#00b050"/><circle cx="505.5" cy="246.4" r="2.2" fill="#00b050"/><circle cx="508.3" cy="94.4" r="2.2" fill="#00b050"/><circle cx="511" cy="85.9" r="2.2" fill="#00b050"/><circle cx="513.8" cy="70.4" r="2.2" fill="#00b050"/><circle cx="516.6" cy="11.1" r="2.2" fill="#00b050"/><circle cx="519.3" cy="59.6" r="2.2" fill="#00b050"/><circle cx="522.1" cy="124.5" r="2.2" fill="#00b050"/><circle cx="524.8" cy="102.2" r="2.2" fill="#00b050"/><circle cx="527.6" cy="117.2" r="2.2" fill="#00b050"/><circle cx="530.4" cy="80.7" r="2.2" fill="#00b050"/><circle cx="533.1" cy="105.2" r="2.2" fill="#00b050"/><circle cx="535.9" cy="120.7" r="2.2" fill="#00b050"/><circle cx="538.6" cy="141.9" r="2.2" fill="#00b050"/><circle cx="541.4" cy="99.6" r="2.2" fill="#00b050"/><circle cx="544.2" cy="124" r="2.2" fill="#00b050"/><circle cx="546.9" cy="140" r="2.2" fill="#00b050"/><circle cx="549.7" cy="196.2" r="2.2" fill="#00b050"/><circle cx="552.4" cy="175.6" r="2.2" fill="#00b050"/><circle cx="555.2" cy="177.7" r="2.2" fill="#00b050"/><circle cx="558" cy="209.8" r="2.2" fill="#00b050"/><circle cx="560.7" cy="162.5" r="2.2" fill="#00b050"/><circle cx="563.5" cy="190.5" r="2.2" fill="#00b050"/><circle cx="566.2" cy="194.5" r="2.2" fill="#00b050"/><circle cx="569" cy="213.5" r="2.2" fill="#00b050"/><circle cx="571.8" cy="246" r="2.2" fill="#00b050"/><circle cx="574.5" cy="246" r="2.2" fill="#00b050"/><circle cx="577.3" cy="172.8" r="2.2" fill="#00b050"/><circle cx="580" cy="200" r="2.2" fill="#00b050"/><circle cx="582.8" cy="246" r="2.2" fill="#00b050"/><circle cx="585.6" cy="186" r="2.2" fill="#00b050"/><circle cx="588.3" cy="211.4" r="2.2" fill="#00b050"/><circle cx="591.1" cy="208.8" r="2.2" fill="#00b050"/><circle cx="593.8" cy="171.3" r="2.2" fill="#00b050"/><circle cx="596.6" cy="203.7" r="2.2" fill="#00b050"/><circle cx="599.4" cy="209.8" r="2.2" fill="#00b050"/><circle cx="602.1" cy="200" r="2.2" fill="#00b050"/><circle cx="604.9" cy="189" r="2.2" fill="#00b050"/><circle cx="607.6" cy="217.4" r="2.2" fill="#00b050"/><circle cx="610.4" cy="246" r="2.2" fill="#00b050"/><circle cx="613.2" cy="217.5" r="2.2" fill="#00b050"/><circle cx="615.9" cy="207.3" r="2.2" fill="#00b050"/><circle cx="618.7" cy="200" r="2.2" fill="#00b050"/><circle cx="621.4" cy="193.3" r="2.2" fill="#00b050"/><circle cx="624.2" cy="246" r="2.2" fill="#00b050"/><circle cx="627" cy="171.2" r="2.2" fill="#00b050"/><circle cx="629.7" cy="226.1" r="2.2" fill="#00b050"/><circle cx="632.5" cy="195.7" r="2.2" fill="#00b050"/><circle cx="635.2" cy="213.3" r="2.2" fill="#00b050"/><circle cx="638" cy="215.5" r="2.2" fill="#00b050"/><circle cx="640.8" cy="181.8" r="2.2" fill="#00b050"/><circle cx="643.5" cy="218.8" r="2.2" fill="#00b050"/><circle cx="646.3" cy="215" r="2.2" fill="#00b050"/><circle cx="649" cy="208" r="2.2" fill="#00b050"/><circle cx="651.8" cy="218" r="2.2" fill="#00b050"/><circle cx="654.6" cy="201.8" r="2.2" fill="#00b050"/><circle cx="657.3" cy="186" r="2.2" fill="#00b050"/><circle cx="660.1" cy="181" r="2.2" fill="#00b050"/><circle cx="662.8" cy="217.5" r="2.2" fill="#00b050"/><circle cx="665.6" cy="197.3" r="2.2" fill="#00b050"/><circle cx="668.4" cy="211.1" r="2.2" fill="#00b050"/><circle cx="671.1" cy="246" r="2.2" fill="#00b050"/><circle cx="673.9" cy="246" r="2.2" fill="#00b050"/><circle cx="676.6" cy="221" r="2.2" fill="#00b050"/><circle cx="679.4" cy="223.6" r="2.2" fill="#00b050"/><circle cx="682.2" cy="210.2" r="2.2" fill="#00b050"/><circle cx="684.9" cy="194.8" r="2.2" fill="#00b050"/><circle cx="687.7" cy="246" r="2.2" fill="#00b050"/><circle cx="690.4" cy="161.6" r="2.2" fill="#00b050"/><circle cx="693.2" cy="182" r="2.2" fill="#00b050"/><circle cx="696" cy="184.1" r="2.2" fill="#00b050"/><circle cx="698.7" cy="246" r="2.2" fill="#00b050"/><circle cx="701.5" cy="216.5" r="2.2" fill="#00b050"/><circle cx="704.2" cy="205.5" r="2.2" fill="#00b050"/><circle cx="707" cy="200" r="2.2" fill="#00b050"/><circle cx="709.8" cy="189.9" r="2.2" fill="#00b050"/><circle cx="712.5" cy="201.2" r="2.2" fill="#00b050"/><circle cx="715.3" cy="212" r="2.2" fill="#00b050"/><circle cx="718" cy="211.4" r="2.2" fill="#00b050"/><circle cx="720.8" cy="246" r="2.2" fill="#00b050"/><circle cx="723.6" cy="225" r="2.2" fill="#00b050"/><circle cx="726.3" cy="220.7" r="2.2" fill="#00b050"/><circle cx="729.1" cy="246" r="2.2" fill="#00b050"/><circle cx="731.8" cy="189.6" r="2.2" fill="#00b050"/><circle cx="734.6" cy="205.5" r="2.2" fill="#00b050"/><circle cx="737.4" cy="226.6" r="2.2" fill="#00b050"/><circle cx="740.1" cy="187.6" r="2.2" fill="#00b050"/><circle cx="742.9" cy="206.8" r="2.2" fill="#00b050"/><circle cx="745.6" cy="161.9" r="2.2" fill="#00b050"/><circle cx="748.4" cy="201.7" r="2.2" fill="#00b050"/><circle cx="751.2" cy="215.3" r="2.2" fill="#00b050"/><circle cx="753.9" cy="162.4" r="2.2" fill="#00b050"/>
<polyline fill="none" stroke="#1420c8" stroke-width="1.0" stroke-linejoin="round" points="500,246.4 502.8,246.4 505.5,246.4 508.3,75.8 511,38.2 513.8,120.3 516.6,11.1 519.3,38.2 522.1,113 524.8,81.7 527.6,88.7 530.4,82.2 533.1,84.3 535.9,64.3 538.6,60 541.4,111.6 544.2,74.2 546.9,209 549.7,146.6 552.4,146.6 555.2,183.6 558,198.8 560.7,206.4 563.5,195.4 566.2,146.6 569,176.5 571.8,147.7 574.5,201.3 577.3,216 580,191.5 582.8,204.7 585.6,201.3 588.3,216.7 591.1,214.9 593.8,246.5 596.6,201.3 599.4,184.3 602.1,246.5 604.9,204.7 607.6,200.1 610.4,205.6 613.2,193.3 615.9,184.3 618.7,206.4 621.4,188.6 624.2,173.2 627,210.7 629.7,194 632.5,223.6 635.2,221 638,212.5 640.8,199.6 643.5,246.5 646.3,202.6 649,246.5 651.8,209.5 654.6,171 657.3,246.5 660.1,246.5 662.8,246.5 665.6,191.8 668.4,205.5 671.1,246.5 673.9,246.5 676.6,206.8 679.4,206.3 682.2,194 684.9,246.5 687.7,246.5 690.4,223.5 693.2,246.5 696,246.5 698.7,203.8 701.5,246.5 704.2,189.3 707,246.5 709.8,185.8 712.5,212.8 715.3,246.5 718,246.5 720.8,203.8 723.6,246.5 726.3,210.2 729.1,189.3 731.8,246.5 734.6,171.7 737.4,210.7 740.1,194.6 742.9,172.3 745.6,202.1 748.4,197.9 751.2,179.5 753.9,180.4"/>
<path fill="#1420c8" d="M500 243.5l2.3 4.8h-4.6zM502.8 243.5l2.3 4.8h-4.6zM505.5 243.5l2.3 4.8h-4.6zM508.3 72.9l2.3 4.8h-4.6zM511 35.3l2.3 4.8h-4.6zM513.8 117.4l2.3 4.8h-4.6zM516.6 8.2l2.3 4.8h-4.6zM519.3 35.3l2.3 4.8h-4.6zM522.1 110.1l2.3 4.8h-4.6zM524.8 78.8l2.3 4.8h-4.6zM527.6 85.9l2.3 4.8h-4.6zM530.4 79.3l2.3 4.8h-4.6zM533.1 81.4l2.3 4.8h-4.6zM535.9 61.4l2.3 4.8h-4.6zM538.6 57.2l2.3 4.8h-4.6zM541.4 108.7l2.3 4.8h-4.6zM544.2 71.3l2.3 4.8h-4.6zM546.9 206.1l2.3 4.8h-4.6zM549.7 143.7l2.3 4.8h-4.6zM552.4 143.7l2.3 4.8h-4.6zM555.2 180.7l2.3 4.8h-4.6zM558 195.9l2.3 4.8h-4.6zM560.7 203.5l2.3 4.8h-4.6zM563.5 192.5l2.3 4.8h-4.6zM566.2 143.7l2.3 4.8h-4.6zM569 173.6l2.3 4.8h-4.6zM571.8 144.8l2.3 4.8h-4.6zM574.5 198.4l2.3 4.8h-4.6zM577.3 213.1l2.3 4.8h-4.6zM580 188.6l2.3 4.8h-4.6zM582.8 201.8l2.3 4.8h-4.6zM585.6 198.4l2.3 4.8h-4.6zM588.3 213.8l2.3 4.8h-4.6zM591.1 212l2.3 4.8h-4.6zM593.8 243.6l2.3 4.8h-4.6zM596.6 198.4l2.3 4.8h-4.6zM599.4 181.4l2.3 4.8h-4.6zM602.1 243.6l2.3 4.8h-4.6zM604.9 201.8l2.3 4.8h-4.6zM607.6 197.2l2.3 4.8h-4.6zM610.4 202.7l2.3 4.8h-4.6zM613.2 190.4l2.3 4.8h-4.6zM615.9 181.4l2.3 4.8h-4.6zM618.7 203.5l2.3 4.8h-4.6zM621.4 185.7l2.3 4.8h-4.6zM624.2 170.3l2.3 4.8h-4.6zM627 207.8l2.3 4.8h-4.6zM629.7 191.1l2.3 4.8h-4.6zM632.5 220.7l2.3 4.8h-4.6zM635.2 218.1l2.3 4.8h-4.6zM638 209.6l2.3 4.8h-4.6zM640.8 196.7l2.3 4.8h-4.6zM643.5 243.6l2.3 4.8h-4.6zM646.3 199.7l2.3 4.8h-4.6zM649 243.6l2.3 4.8h-4.6zM651.8 206.6l2.3 4.8h-4.6zM654.6 168.1l2.3 4.8h-4.6zM657.3 243.6l2.3 4.8h-4.6zM660.1 243.6l2.3 4.8h-4.6zM662.8 243.6l2.3 4.8h-4.6zM665.6 188.9l2.3 4.8h-4.6zM668.4 202.6l2.3 4.8h-4.6zM671.1 243.6l2.3 4.8h-4.6zM673.9 243.6l2.3 4.8h-4.6zM676.6 203.9l2.3 4.8h-4.6zM679.4 203.4l2.3 4.8h-4.6zM682.2 191.1l2.3 4.8h-4.6zM684.9 243.6l2.3 4.8h-4.6zM687.7 243.6l2.3 4.8h-4.6zM690.4 220.6l2.3 4.8h-4.6zM693.2 243.6l2.3 4.8h-4.6zM696 243.6l2.3 4.8h-4.6zM698.7 200.9l2.3 4.8h-4.6zM701.5 243.6l2.3 4.8h-4.6zM704.2 186.4l2.3 4.8h-4.6zM707 243.6l2.3 4.8h-4.6zM709.8 182.9l2.3 4.8h-4.6zM712.5 209.9l2.3 4.8h-4.6zM715.3 243.6l2.3 4.8h-4.6zM718 243.6l2.3 4.8h-4.6zM720.8 200.9l2.3 4.8h-4.6zM723.6 243.6l2.3 4.8h-4.6zM726.3 207.3l2.3 4.8h-4.6zM729.1 186.4l2.3 4.8h-4.6zM731.8 243.6l2.3 4.8h-4.6zM734.6 168.8l2.3 4.8h-4.6zM737.4 207.8l2.3 4.8h-4.6zM740.1 191.7l2.3 4.8h-4.6zM742.9 169.4l2.3 4.8h-4.6zM745.6 199.2l2.3 4.8h-4.6zM748.4 195l2.3 4.8h-4.6zM751.2 176.6l2.3 4.8h-4.6zM753.9 177.5l2.3 4.8h-4.6z"/>
<rect x="572" y="50" width="158.6" height="82.8" fill="#fff" stroke="#a6a6a6" stroke-width="1"/>
<polyline fill="none" stroke="#00b050" stroke-width="1.0" stroke-linejoin="round" points="578.5,129.7 587,129.7 595.5,129.7 604,80.9 612.5,77.8 621,72.4 629.5,54.1 638,69.7 646.5,91.1 655,82.9 663.5,88 672,76.5 680.5,84 689,89.3 697.5,96.1 706,82.5 714.5,90.4 723,95.5"/>
<circle cx="578.5" cy="129.7" r="2.6" fill="#00b050"/><circle cx="587" cy="129.7" r="2.6" fill="#00b050"/><circle cx="595.5" cy="129.7" r="2.6" fill="#00b050"/><circle cx="604" cy="80.9" r="2.6" fill="#00b050"/><circle cx="612.5" cy="77.8" r="2.6" fill="#00b050"/><circle cx="621" cy="72.4" r="2.6" fill="#00b050"/><circle cx="629.5" cy="54.1" r="2.6" fill="#00b050"/><circle cx="638" cy="69.7" r="2.6" fill="#00b050"/><circle cx="646.5" cy="91.1" r="2.6" fill="#00b050"/><circle cx="655" cy="82.9" r="2.6" fill="#00b050"/><circle cx="663.5" cy="88" r="2.6" fill="#00b050"/><circle cx="672" cy="76.5" r="2.6" fill="#00b050"/><circle cx="680.5" cy="84" r="2.6" fill="#00b050"/><circle cx="689" cy="89.3" r="2.6" fill="#00b050"/><circle cx="697.5" cy="96.1" r="2.6" fill="#00b050"/><circle cx="706" cy="82.5" r="2.6" fill="#00b050"/><circle cx="714.5" cy="90.4" r="2.6" fill="#00b050"/><circle cx="723" cy="95.5" r="2.6" fill="#00b050"/>
<polyline fill="none" stroke="#1420c8" stroke-width="1.0" stroke-linejoin="round" points="578.5,129.7 587,129.7 595.5,129.7 604,74.4 612.5,62.2 621,89.4 629.5,53.4 638,62.2 646.5,87 655,77.1 663.5,79.6 672,76.4 680.5,77.1 689,71.1 697.5,70.4 706,86 714.5,74.1 723,117.6"/>
<path fill="#1420c8" d="M578.5 126.5l2.6 5.4h-5.2zM587 126.5l2.6 5.4h-5.2zM595.5 126.5l2.6 5.4h-5.2zM604 71.1l2.6 5.4h-5.2zM612.5 58.9l2.6 5.4h-5.2zM621 86.2l2.6 5.4h-5.2zM629.5 50.2l2.6 5.4h-5.2zM638 58.9l2.6 5.4h-5.2zM646.5 83.7l2.6 5.4h-5.2zM655 73.9l2.6 5.4h-5.2zM663.5 76.3l2.6 5.4h-5.2zM672 73.2l2.6 5.4h-5.2zM680.5 73.9l2.6 5.4h-5.2zM689 67.9l2.6 5.4h-5.2zM697.5 67.2l2.6 5.4h-5.2zM706 82.7l2.6 5.4h-5.2zM714.5 70.8l2.6 5.4h-5.2zM723 114.3l2.6 5.4h-5.2z"/>
<text x="590.8" y="146.3" class="tkb">x=0</text>
<text x="714.2" y="146.3" class="tkb">x=A</text>
<text x="490.6" y="263.6" class="xl">x=0</text>
<text x="541.3" y="263.6" class="xl">x=A</text>
<text x="737.8" y="263.6" class="xl">x=B</text>
<line x1="600.3" y1="24.2" x2="617" y2="24.2" stroke="#00b050"/>
<circle cx="608.9" cy="24.2" r="2.3" fill="#00b050"/>
<line x1="600.3" y1="40.6" x2="617" y2="40.6" stroke="#1420c8"/>
<path fill="#1420c8" d="M609.1 37.8l2.2 4.7h-4.4z"/>
<text x="623.2" y="28.6" class="lg">PC (18:1_16:0)</text>
<text x="623.2" y="43.4" class="lg">PC (16:0_22:6)</text>
</svg>
</body></html>
